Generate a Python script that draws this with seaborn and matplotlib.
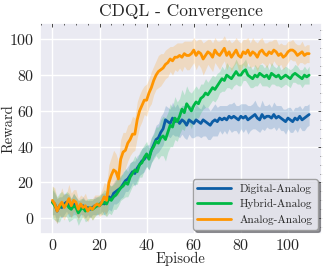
import numpy as np
import pandas as pd
import seaborn as sns
import matplotlib.pyplot as plt
from matplotlib.ticker import MultipleLocator


# =========================
# Data
# =========================

episodes = list(range(110))

analog_mean = [
    10, 8, 4, 7, 9, 6, 8, 11, 7, 10, 9, 5, 8, 6, 7, 4, 6, 5, 7, 8,
    7, 9, 12, 10, 20, 24, 27, 26, 22, 33,
    37, 38, 42, 44, 47, 47, 55, 60, 63, 66,
    66, 70, 73, 77, 80, 82, 83, 84, 86, 87,
    89, 88, 90, 90, 91, 90, 92, 91, 91, 92,
    94, 91, 93, 92, 89, 91, 93, 92, 90, 94,
    92, 91, 93, 95, 91, 93, 90, 92, 94, 91,
    90, 93, 92, 94, 91, 93, 92, 90, 93, 94,
    92, 91, 93, 92, 94, 93, 91, 92, 90, 91,
    93, 94, 94, 93, 91, 92, 93, 91, 92, 92,
]
analog_std = [
    8, 9, 7, 6, 8, 7, 6, 8, 7, 6, 7, 6, 5, 6, 7, 6, 5, 6, 6, 5,
    6, 7, 8, 9, 10, 10, 11, 10, 10, 11,
    11, 10, 10, 9, 10, 9, 10, 9, 9, 8,
    9, 8, 9, 8, 8, 9, 9, 8, 8, 8,
    7, 8, 7, 8, 7, 8, 7, 8, 8, 7,
    7, 8, 7, 8, 9, 8, 7, 8, 8, 7,
    7, 8, 7, 7, 8, 7, 8, 7, 7, 8,
    8, 7, 8, 7, 7, 8, 7, 8, 7, 7,
    6, 7, 6, 7, 6, 7, 6, 6, 7, 6,
    6, 5, 6, 5, 6, 5, 6, 5, 5, 5,
]

hybrid_mean = [
    9, 7, 5, 6, 8, 7, 8, 6, 5, 7, 6, 3, 5, 6, 4, 5, 6, 5, 6, 7,
    8, 8, 9, 8, 11, 10, 12, 13, 15, 17,
    18, 20, 19, 23, 25, 27, 26, 30, 31, 34,
    36, 33, 38, 40, 43, 42, 45, 46, 44, 48,
    52, 51, 56, 54, 57, 61, 59, 64, 62, 60,
    63, 65, 64, 67, 68, 70, 69, 71, 73, 72,
    74, 76, 78, 77, 80, 79, 78, 80, 82, 80,
    80, 82, 83, 80, 79, 78, 80, 79, 81, 80,
    79, 80, 78, 81, 80, 79, 80, 78, 79, 80,
    79, 78, 80, 81, 80, 79, 78, 80, 79, 80,
]
hybrid_std = [
    9, 8, 7, 8, 7, 6, 7, 8, 6, 7, 6, 7, 6, 5, 6, 6, 5, 6, 5, 5,
    5, 6, 7, 7, 8, 8, 7, 8, 8, 7,
    7, 8, 7, 8, 7, 8, 7, 7, 8, 7,
    7, 6, 7, 7, 8, 9, 10, 11, 12, 11,
    12, 11, 12, 11, 10, 11, 10, 10, 9, 10,
    9, 9, 8, 8, 7, 8, 7, 7, 7, 7,
    7, 6, 7, 6, 7, 6, 6, 6, 7, 6,
    6, 5, 6, 5, 6, 5, 6, 5, 5, 6,
    5, 6, 5, 6, 5, 5, 6, 5, 5, 5,
    5, 5, 4, 5, 5, 4, 5, 5, 4, 5,
]

digital_mean = [
    9, 8, 4, 7, 6, 8, 9, 7, 6, 8, 7, 5, 6, 7, 5, 6, 5, 6, 7, 7,
    7, 9, 8, 9, 12, 11, 14, 15, 16, 17,
    19, 21, 22, 24, 26, 25, 28, 30, 32, 33,
    35, 34, 38, 41, 44, 45, 48, 50, 55, 54,
    53, 56, 54, 55, 53, 55, 54, 52, 55, 54,
    53, 55, 54, 53, 55, 54, 53, 52, 54, 55,
    54, 56, 55, 56, 55, 57, 56, 57, 56, 55,
    57, 56, 57, 55, 56, 57, 58, 56, 55, 58,
    56, 57, 57, 56, 58, 56, 57, 56, 55, 54,
    56, 55, 54, 56, 55, 57, 55, 56, 57, 58,
]
digital_std = [
    7, 6, 7, 5, 6, 6, 5, 6, 5, 6, 5, 5, 4, 5, 5, 4, 5, 4, 5, 5,
    5, 5, 6, 6, 7, 7, 6, 7, 7, 6,
    7, 6, 7, 7, 6, 7, 7, 6, 7, 7,
    6, 7, 7, 7, 8, 8, 9, 9, 8, 8,
    8, 9, 8, 9, 8, 8, 9, 8, 8, 9,
    8, 9, 8, 8, 9, 8, 9, 8, 8, 9,
    8, 7, 8, 7, 8, 7, 8, 8, 7, 8,
    7, 8, 7, 8, 7, 7, 8, 7, 7, 8,
    7, 6, 7, 6, 7, 7, 6, 7, 6, 7,
    6, 7, 6, 6, 7, 6, 6, 7, 6, 6,
]

labels = ["Digital-Analog", "Hybrid-Analog", "Analog-Analog"]
colors = ["#0C5DA5", "#00B945", "#FF9500"]


# =========================
# Long DataFrame
# =========================

df = pd.concat([
    pd.DataFrame({"Episode": episodes, "Reward": m, "std": s, "Setup": name})
    for name, m, s in zip(labels,
                          [digital_mean, hybrid_mean, analog_mean],
                          [digital_std, hybrid_std, analog_std])
], ignore_index=True)


# =========================
# Style
# =========================

sns.set_theme(style="darkgrid")
plt.rcParams["font.family"] = ["cmr10", "DejaVu Serif"]
plt.rcParams["mathtext.fontset"] = "cm"
plt.rcParams["axes.formatter.use_mathtext"] = True


# =========================
# Plot
# =========================

fig, ax = plt.subplots(figsize=(3.27, 2.69), dpi=100)
fig.subplots_adjust(left=0.121, right=0.985, top=0.913, bottom=0.13)

for name, color in zip(labels, colors):
    sub = df[df["Setup"] == name]
    ax.fill_between(
        sub["Episode"],
        sub["Reward"] - sub["std"],
        sub["Reward"] + sub["std"],
        color=color,
        alpha=0.2,
        linewidth=0
    )

sns.lineplot(
    data=df,
    x="Episode",
    y="Reward",
    hue="Setup",
    hue_order=labels,
    palette=colors,
    linewidth=2,
    ax=ax
)

ax.set_xlim(-5.45, 114.5)
ax.set_ylim(-8.8, 108.9)
ax.xaxis.set_major_locator(MultipleLocator(20))
ax.yaxis.set_major_locator(MultipleLocator(20))
ax.xaxis.set_minor_locator(MultipleLocator(5))
ax.yaxis.set_minor_locator(MultipleLocator(5))

ax.tick_params(which="both", direction="in", bottom=False, left=False,
               top=True, right=True, labelbottom=True, labelleft=True,
               color="#262626")
ax.tick_params(which="major", length=3, width=0.6, labelsize=11.5, pad=4)
ax.tick_params(axis="x", which="major", pad=3)
ax.tick_params(which="minor", length=1.5, width=0.5)
ax.grid(which="minor", visible=False)

ax.set_xlabel("Episode", fontsize=10.5)
ax.xaxis.set_label_coords(0.5, -0.085)
ax.set_ylabel("Reward", fontsize=10.5)
ax.yaxis.set_label_coords(-0.085, 0.5)
ax.set_title("CDQL - Convergence", fontsize=12.5, pad=5)

ax.legend(
    loc="lower right",
    fontsize=8.1,
    frameon=True,
    shadow=True,
    fancybox=True,
    framealpha=0.9,
    edgecolor="#999999",
    handlelength=3,
    borderaxespad=0.4
)

plt.savefig("out.png", dpi=100)
